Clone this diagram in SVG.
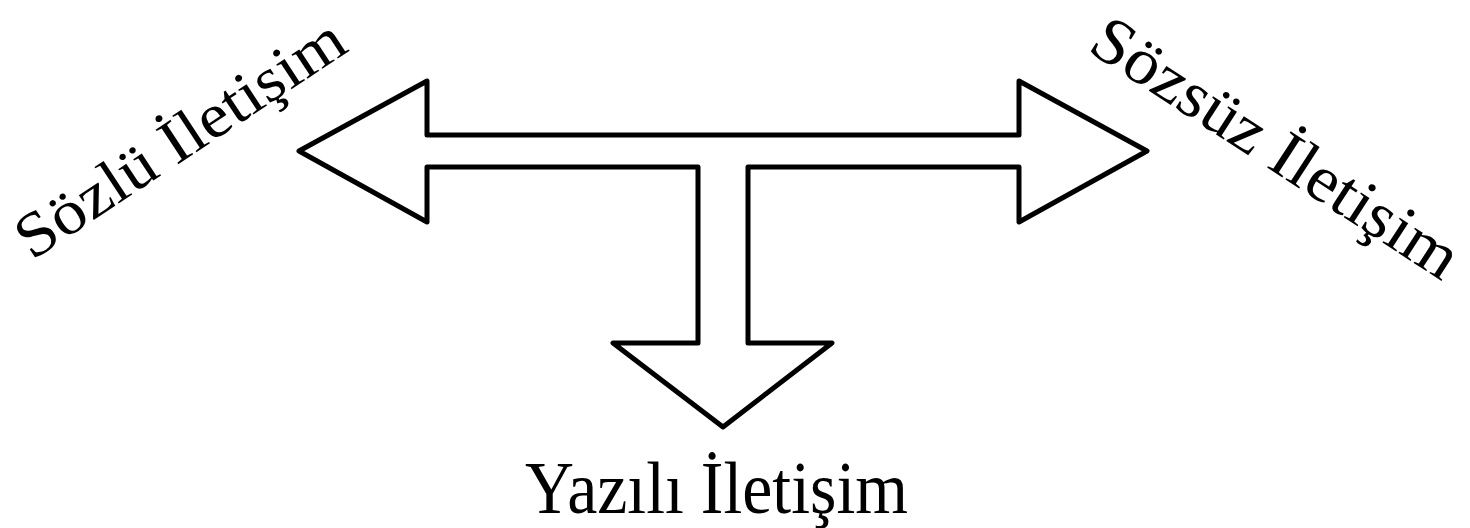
<svg xmlns="http://www.w3.org/2000/svg" width="1470" height="528" viewBox="0 0 1470 528">
<style>
.lbl{font-family:"Liberation Serif","DejaVu Serif",serif;fill:#000}
.arr{fill:#fff;stroke:#000;stroke-width:5;stroke-linejoin:round}
</style>
<rect width="1470" height="528" fill="#fff"/>
<g id="arrow">
<polygon class="arr" points="299,151 427,81 427,135 1019,135 1019,81 1147,151 1019,222 1019,167 748,167 748,343 832,343 723,427 613,343 698,343 698,167 427,167 427,222"/>
</g>
<g id="sozlu">
<text class="lbl" font-size="63" transform="translate(32,261) rotate(-33.5)" textLength="382" lengthAdjust="spacingAndGlyphs">Sözlü İletişim</text>
</g>
<g id="sozsuz">
<text class="lbl" font-size="66" transform="translate(1086,50) rotate(33)" textLength="425" lengthAdjust="spacingAndGlyphs">Sözsüz İletişim</text>
</g>
<g id="yazili">
<text class="lbl" font-size="74" x="525" y="513" textLength="383" lengthAdjust="spacingAndGlyphs">Yazılı İletişim</text>
</g>
</svg>
